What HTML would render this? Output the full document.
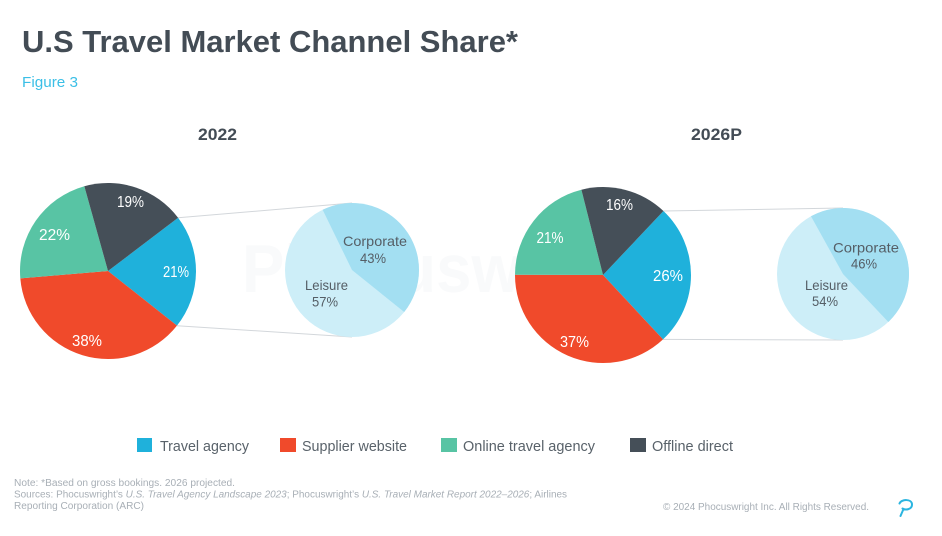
<!DOCTYPE html>
<html>
<head>
<meta charset="utf-8">
<style>
  html,body{margin:0;padding:0;background:#ffffff;}
  svg{display:block;}
  text{font-family:"Liberation Sans", Arial, sans-serif;}
</style>
</head>
<body>
<svg width="942" height="536" viewBox="0 0 942 536" xmlns="http://www.w3.org/2000/svg">
  <rect width="942" height="536" fill="#ffffff"/>

  <!-- Watermark -->
  <text x="242" y="292" font-size="68" font-weight="bold" fill="#f9fafb" textLength="420" lengthAdjust="spacingAndGlyphs">Phocuswright</text>

  <!-- Title -->
  <text x="22" y="52" font-size="31" font-weight="bold" fill="#434c55" textLength="496" lengthAdjust="spacingAndGlyphs">U.S Travel Market Channel Share*</text>
  <text x="22" y="87" font-size="15" fill="#3bbfe6" textLength="56" lengthAdjust="spacingAndGlyphs">Figure 3</text>

  <!-- Year headings -->
  <text x="198" y="140" font-size="17" font-weight="bold" fill="#434c55" textLength="39" lengthAdjust="spacingAndGlyphs">2022</text>
  <text x="691" y="140" font-size="17" font-weight="bold" fill="#434c55" textLength="51" lengthAdjust="spacingAndGlyphs">2026P</text>

  <!-- Connector lines left -->
  <line x1="178.1" y1="217.8" x2="352" y2="203" stroke="#d3d7db" stroke-width="1"/>
  <line x1="177" y1="325.7" x2="352" y2="337" stroke="#d3d7db" stroke-width="1"/>
  <!-- Connector lines right -->
  <line x1="663.5" y1="211" x2="843" y2="208" stroke="#d3d7db" stroke-width="1"/>
  <line x1="663" y1="339.4" x2="843" y2="340" stroke="#d3d7db" stroke-width="1"/>

  <!-- Left pie 2022 -->
  <path d="M108,271 L178.09,217.80 A88,88 0 0 1 176.97,325.66 Z" fill="#1fb1db"/>
  <path d="M108,271 L176.97,325.66 A88,88 0 0 1 20.31,278.36 Z" fill="#f04a2b"/>
  <path d="M108,271 L20.31,278.36 A88,88 0 0 1 84.34,186.24 Z" fill="#58c4a4"/>
  <path d="M108,271 L84.34,186.24 A88,88 0 0 1 178.09,217.80 Z" fill="#454f58"/>

  <g font-size="16" fill="#ffffff" text-anchor="middle">
    <text x="130.5" y="207" textLength="27" lengthAdjust="spacingAndGlyphs">19%</text>
    <text x="54.5" y="240" textLength="31" lengthAdjust="spacingAndGlyphs">22%</text>
    <text x="176" y="277" textLength="26" lengthAdjust="spacingAndGlyphs">21%</text>
    <text x="87" y="346" textLength="30" lengthAdjust="spacingAndGlyphs">38%</text>
  </g>

  <!-- Left secondary pie -->
  <circle cx="352" cy="270" r="67" fill="#cdeef8"/>
  <path d="M352,270 L322.63,209.78 A67,67 0 0 1 404.21,311.98 Z" fill="#a3dff2"/>
  <g font-size="14" fill="#555e66" text-anchor="middle">
    <text x="375" y="246" textLength="64" lengthAdjust="spacingAndGlyphs">Corporate</text>
    <text x="373" y="263" textLength="26" lengthAdjust="spacingAndGlyphs">43%</text>
    <text x="326.5" y="290" textLength="43" lengthAdjust="spacingAndGlyphs">Leisure</text>
    <text x="325" y="306.5" textLength="26" lengthAdjust="spacingAndGlyphs">57%</text>
  </g>

  <!-- Right pie 2026P -->
  <path d="M603,275 L663.46,211.06 A88,88 0 0 1 663.02,339.36 Z" fill="#1fb1db"/>
  <path d="M603,275 L663.02,339.36 A88,88 0 0 1 515.0,274.69 Z" fill="#f04a2b"/>
  <path d="M603,275 L515.0,274.69 A88,88 0 0 1 581.41,189.69 Z" fill="#58c4a4"/>
  <path d="M603,275 L581.41,189.69 A88,88 0 0 1 663.46,211.06 Z" fill="#454f58"/>

  <g font-size="16" fill="#ffffff" text-anchor="middle">
    <text x="619.5" y="210" textLength="27" lengthAdjust="spacingAndGlyphs">16%</text>
    <text x="550" y="243" textLength="27" lengthAdjust="spacingAndGlyphs">21%</text>
    <text x="668" y="281" textLength="30" lengthAdjust="spacingAndGlyphs">26%</text>
    <text x="574.5" y="347" textLength="29" lengthAdjust="spacingAndGlyphs">37%</text>
  </g>

  <!-- Right secondary pie -->
  <circle cx="843" cy="274" r="66" fill="#cdeef8"/>
  <path d="M843,274 L811.0,216.28 A66,66 0 0 1 888.35,321.96 Z" fill="#a3dff2"/>
  <g font-size="14" fill="#555e66" text-anchor="middle">
    <text x="866" y="252.5" textLength="66" lengthAdjust="spacingAndGlyphs">Corporate</text>
    <text x="864" y="268.5" textLength="26" lengthAdjust="spacingAndGlyphs">46%</text>
    <text x="826.5" y="290" textLength="43" lengthAdjust="spacingAndGlyphs">Leisure</text>
    <text x="825" y="306" textLength="26" lengthAdjust="spacingAndGlyphs">54%</text>
  </g>

  <!-- Legend -->
  <rect x="137" y="438" width="15" height="14" fill="#1fb1db"/>
  <text x="160" y="451" font-size="15" fill="#59626a" textLength="89" lengthAdjust="spacingAndGlyphs">Travel agency</text>
  <rect x="280" y="438" width="16" height="14" fill="#f04a2b"/>
  <text x="302" y="451" font-size="15" fill="#59626a" textLength="105" lengthAdjust="spacingAndGlyphs">Supplier website</text>
  <rect x="441" y="438" width="16" height="14" fill="#58c4a4"/>
  <text x="463" y="451" font-size="15" fill="#59626a" textLength="132" lengthAdjust="spacingAndGlyphs">Online travel agency</text>
  <rect x="630" y="438" width="16" height="14" fill="#454f58"/>
  <text x="652" y="451" font-size="15" fill="#59626a" textLength="81" lengthAdjust="spacingAndGlyphs">Offline direct</text>

  <!-- Footer notes -->
  <g font-size="10" fill="#a8afb6">
    <text x="14" y="486" textLength="221" lengthAdjust="spacingAndGlyphs">Note: *Based on gross bookings. 2026 projected.</text>
    <text x="14" y="497.5" textLength="553" lengthAdjust="spacingAndGlyphs">Sources: Phocuswright’s <tspan font-style="italic">U.S. Travel Agency Landscape 2023</tspan>; Phocuswright’s <tspan font-style="italic">U.S. Travel Market Report 2022–2026</tspan>; Airlines</text>
    <text x="14" y="509" textLength="130" lengthAdjust="spacingAndGlyphs">Reporting Corporation (ARC)</text>
    <text x="663" y="510" textLength="206" lengthAdjust="spacingAndGlyphs">© 2024 Phocuswright Inc. All Rights Reserved.</text>
  </g>

  <!-- Logo -->
  <path d="M899.5,503.5 C901,499 912,498.5 912,504.5 C912,509.5 905.5,510.5 902.5,508.5 M903.5,509 L900.5,516" fill="none" stroke="#2bb5e0" stroke-width="2" stroke-linecap="round"/>
</svg>
</body>
</html>
